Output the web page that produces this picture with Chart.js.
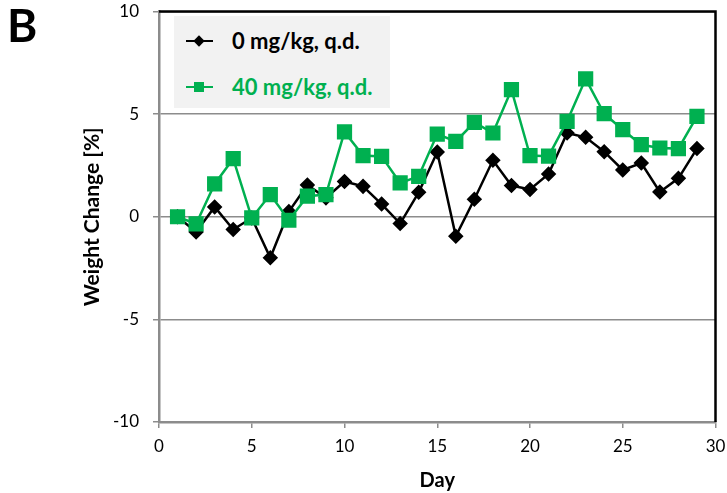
<!DOCTYPE html>
<html>
<head>
<meta charset="utf-8">
<script src="https://cdn.jsdelivr.net/npm/chart.js@4.4.0/dist/chart.umd.min.js"></script>
<style>
    html, body { margin: 0; padding: 0; background: #ffffff; }
    #wrap { position: relative; width: 727px; height: 493px; font-family: Lato, "Open Sans", sans-serif; }
    #panel { position: absolute; left: 7px; top: -3px; font-size: 46px; font-weight: bold; color: #000; }
    #legend { position: absolute; left: 174px; top: 16px; width: 216px; height: 92px; background: #f2f2f2; }
    .item { position: absolute; left: 0; height: 30px; width: 216px; font-size: 22px; font-weight: bold; }
    .item .line { position: absolute; left: 12px; top: 14px; width: 27px; height: 2px; }
    .item .mark { position: absolute; }
    .item span { position: absolute; left: 58px; top: 1px; white-space: nowrap; }
</style>
</head>
<body>
<div id="wrap">
    <canvas id="chart" width="727" height="493"></canvas>
    <div id="panel">B</div>
    <div id="legend">
        <div class="item" style="top: 10px; color: #000;">
            <div class="line" style="background: #000;"></div>
            <div class="mark" style="left: 21px; top: 11px; width: 8px; height: 8px; background: #000; transform: rotate(45deg);"></div>
            <span>0 mg/kg, q.d.</span>
        </div>
        <div class="item" style="top: 56px; color: #00b050;">
            <div class="line" style="background: #00b050;"></div>
            <div class="mark" style="left: 20px; top: 10px; width: 10px; height: 10px; background: #00b050;"></div>
            <span>40 mg/kg, q.d.</span>
        </div>
    </div>
</div>

<script>
// ================= DATA =================
const days = [1, 2, 3, 4, 5, 6, 7, 8, 9, 10, 11, 12, 13, 14, 15, 16, 17, 18, 19, 20, 21, 22, 23, 24, 25, 26, 27, 28, 29];

const vehicleValues = [0, -0.74, 0.48, -0.62, -0.06, -2.0, 0.25, 1.55, 0.92, 1.72, 1.48, 0.62, -0.33, 1.19, 3.15, -0.95, 0.85, 2.75, 1.52, 1.33, 2.08, 4.08, 3.87, 3.17, 2.28, 2.62, 1.21, 1.87, 3.32];

const treatedValues = [0, -0.35, 1.6, 2.83, -0.06, 1.08, -0.17, 1.0, 1.08, 4.13, 2.98, 2.94, 1.65, 1.97, 4.03, 3.67, 4.6, 4.08, 6.19, 2.98, 2.95, 4.65, 6.72, 5.02, 4.24, 3.51, 3.35, 3.32, 4.89];

const seriesLabels = ["0 mg/kg, q.d.", "40 mg/kg, q.d."];
const xTicks = [0, 5, 10, 15, 20, 25, 30];
const yTicks = [-10, -5, 0, 5, 10];


// ================= HELPERS =================
function toPoints(values) {
    return days.map((d, i) => ({ x: d, y: values[i] }));
}

// black frame on top and right side of the plot
const framePlugin = {
    id: "frame",
    afterDraw(chart) {
        const { ctx, chartArea } = chart;
        ctx.save();
        ctx.strokeStyle = "#000";
        ctx.lineWidth = 2.5;
        ctx.beginPath();
        ctx.moveTo(chartArea.left, chartArea.top);
        ctx.lineTo(chartArea.right, chartArea.top);
        ctx.lineTo(chartArea.right, chartArea.bottom);
        ctx.stroke();
        ctx.restore();
    }
};


// ================= CHART =================
const gray = "#8c8c8c";

new Chart(document.getElementById("chart"), {
    type: "line",
    data: {
        datasets: [
            {
                label: seriesLabels[0],
                data: toPoints(vehicleValues),
                borderColor: "#000",
                backgroundColor: "#000",
                borderWidth: 2.5,
                pointStyle: "rectRot",
                pointRadius: 6,
                pointHoverRadius: 6,
                tension: 0,
                order: 2
            },
            {
                label: seriesLabels[1],
                data: toPoints(treatedValues),
                borderColor: "#00b050",
                backgroundColor: "#00b050",
                borderWidth: 2.5,
                pointStyle: "rect",
                pointRadius: 9,
                pointHoverRadius: 9,
                tension: 0,
                order: 1
            }
        ]
    },
    options: {
        responsive: false,
        animation: false,
        layout: { padding: { top: 10, right: 0, left: 0, bottom: 0 } },
        plugins: {
            legend: { display: false },
            tooltip: { enabled: false }
        },
        scales: {
            x: {
                type: "linear",
                min: 0,
                max: 30,
                afterBuildTicks: s => { s.ticks = xTicks.map(v => ({ value: v })); },
                afterFit: s => {
                    s.height = 71;
                    s.paddingLeft = 0;
                    s.paddingRight = 10;
                },
                grid: {
                    drawOnChartArea: false,
                    drawTicks: true,
                    tickLength: 6,
                    color: gray,
                    lineWidth: 1.5
                },
                border: { display: true, color: gray, width: 2.5 },
                ticks: {
                    color: "#000",
                    padding: 8,
                    font: { family: "Lato", size: 17 }
                },
                title: {
                    display: true,
                    text: "Day",
                    color: "#000",
                    padding: { top: 2, bottom: 0 },
                    font: { family: "Lato", size: 20, weight: "bold" }
                }
            },
            y: {
                min: -10,
                max: 10,
                afterBuildTicks: s => { s.ticks = yTicks.map(v => ({ value: v })); },
                afterFit: s => {
                    s.width = 159;
                    s.paddingTop = 0;
                    s.paddingBottom = 0;
                },
                grid: {
                    drawTicks: true,
                    tickLength: 6,
                    color: gray,
                    lineWidth: 1.5
                },
                border: { display: true, color: gray, width: 2.5 },
                ticks: {
                    color: "#000",
                    padding: 14,
                    font: { family: "Lato", size: 17 }
                },
                title: {
                    display: true,
                    text: "Weight Change [%]",
                    color: "#000",
                    padding: { top: 80, bottom: 0 },
                    font: { family: "Lato", size: 21, weight: "bold" }
                }
            }
        }
    },
    plugins: [framePlugin]
});
</script>
</body>
</html>
